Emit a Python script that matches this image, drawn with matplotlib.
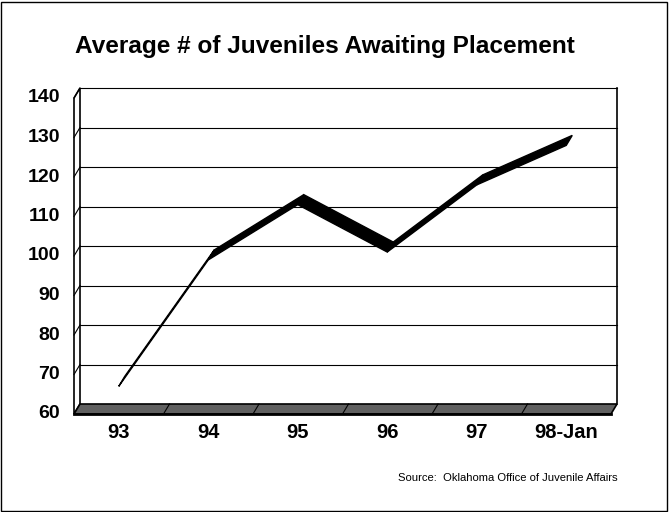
"""Average # of juveniles awaiting placement - Excel style 3-D line"""
import matplotlib
matplotlib.use("Agg")
import matplotlib.pyplot as plt
from matplotlib.patches import Polygon, Rectangle

plt.rcParams["font.family"] = ["Liberation Sans", "DejaVu Sans"]

years = ["93", "94", "95", "96", "97", "98-Jan"]
counts = [67, 99, 113, 101, 118, 128]
yticks = [60, 70, 80, 90, 100, 110, 120, 130, 140]

title = "Average # of Juveniles Awaiting Placement"
source = "Source:  Oklahoma Office of Juvenile Affairs"

W, H = 669, 512
fig = plt.figure(figsize=(W / 100, H / 100), dpi=100)

# back wall in pixels: x 80..617, y 88..404
ax = fig.add_axes([80 / W, (H - 404) / H, 537 / W, 316 / H])
ax.set_xlim(-0.5, len(years) - 0.5)
ax.set_ylim(60, 140)
ax.axis("off")

# depth offset (front plane relative to back plane), in data units
ddx = -6 / 89.5
ddy = -10 / 3.95

x0, x1 = -0.5, len(years) - 0.5

# gridlines on back wall and their slant on the left wall
for v in yticks[1:]:
    ax.plot([x0, x1], [v, v], color="black", lw=0.8, clip_on=False)
    ax.plot([x0, x0 + ddx], [v, v + ddy], color="black", lw=0.8, clip_on=False)

# right edge of back wall
ax.plot([x1, x1], [60, 140], color="black", lw=1.2, clip_on=False)

# left wall
wall = Polygon([(x0, 60), (x0, 140), (x0 + ddx, 140 + ddy), (x0 + ddx, 60 + ddy)],
               closed=True, facecolor="white", edgecolor="black", lw=1.2, clip_on=False)
ax.add_patch(wall)

# floor
floor = Polygon([(x0, 60), (x1, 60), (x1 + ddx, 60 + ddy), (x0 + ddx, 60 + ddy)],
                closed=True, facecolor="#606060", edgecolor="black", lw=1.2, clip_on=False)
ax.add_patch(floor)
for i in range(1, len(years)):
    xb = i - 0.5
    ax.plot([xb, xb + ddx], [60, 60 + ddy], color="black", lw=0.8, clip_on=False)
ax.plot([x0 + ddx, x1 + ddx], [60 + ddy, 60 + ddy], color="black", lw=2, clip_on=False)

# ribbon
for i in range(len(counts) - 1):
    pts = [(i + ddx, counts[i] + ddy), (i + 1 + ddx, counts[i + 1] + ddy),
           (i + 1, counts[i + 1]), (i, counts[i])]
    ax.add_patch(Polygon(pts, closed=True, facecolor="black", edgecolor="black",
                         lw=1.0, clip_on=False))

# tick labels on the front plane
for v in yticks:
    ax.text(x0 - 20 / 89.5, v + ddy, str(v), ha="right", va="center",
            fontsize=14, fontweight="bold", clip_on=False)
for i, lab in enumerate(years):
    ax.text(i + ddx, 60 - 29 / 3.95, lab, ha="center", va="center",
            fontsize=14.5, fontweight="bold", clip_on=False)

fig.text(325 / W, 1 - 46 / H, title, ha="center", va="center",
         fontsize=17.6, fontweight="bold")
fig.text(618 / W, 1 - 478 / H, source, ha="right", va="center", fontsize=8.1)

fig.patches.append(Rectangle((1 / W, 1 / H), (W - 3) / W, (H - 3) / H,
                             transform=fig.transFigure, fill=False,
                             edgecolor="black", lw=1))

fig.savefig("out.png", dpi=100)
